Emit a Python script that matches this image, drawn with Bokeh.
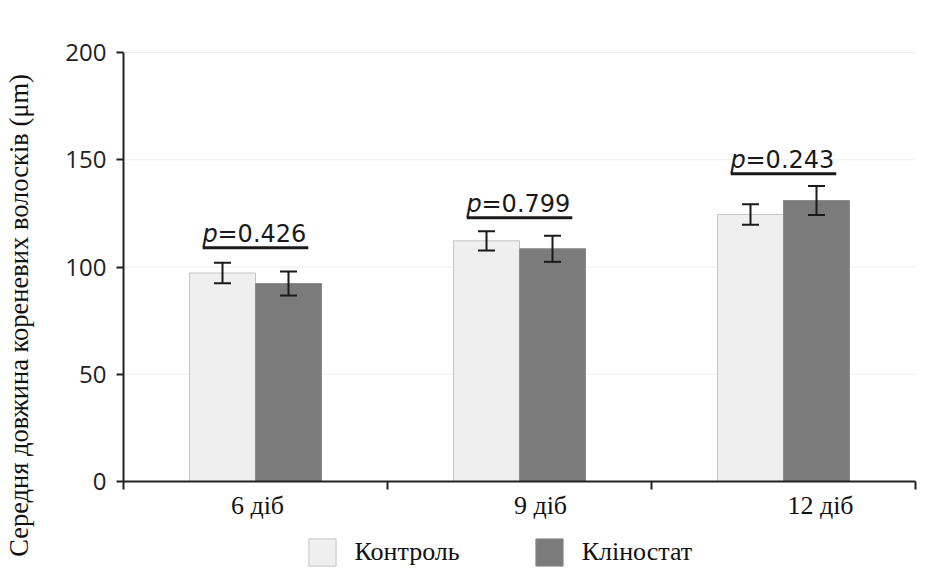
import math
from bokeh.plotting import figure
from bokeh.models import (Range1d, FixedTicker, Whisker, TeeHead, ColumnDataSource,
                          Label, Legend, LegendItem, LinearAxis)
from bokeh.core.properties import value
from bokeh.embed import file_html
from bokeh.resources import INLINE

# ---- data ----
categories = ["6 діб", "9 діб", "12 діб"]
series_names = ["Контроль", "Кліностат"]
control = [97.2, 112.2, 124.5]
control_err = [4.8, 4.5, 4.8]
klinostat = [92.3, 108.5, 131.0]
klinostat_err = [5.6, 6.1, 6.8]
p_values = ["0.426", "0.799", "0.243"]
p_level = [109.0, 123.0, 143.5]
y_ticks = [0, 50, 100, 150, 200]
y_label = "Середня довжина кореневих волосків (μm)"

# ---- layout (pixels) ----
W, H = 935, 570
AX_L, AX_R = 123, 915      # x pixel of category axis start / end
AX_B, AX_T = 481, 52       # y pixel of value 0 / value 200
SERIF = "Liberation Serif"
n = len(categories)
ymin, ymax = y_ticks[0], y_ticks[-1]
sx = (AX_R - AX_L) / n
sy = (AX_B - AX_T) / (ymax - ymin)

centers = [i + 0.5 for i in range(n)]
bw = 0.25

p = figure(width=W, height=H,
           x_range=Range1d(-AX_L / sx, (W - AX_L) / sx),
           y_range=Range1d(ymin - (H - AX_B) / sy, ymin + AX_B / sy),
           output_backend="svg", toolbar_location=None,
           x_axis_location=None, y_axis_location=None,
           min_border=0, min_border_left=0, min_border_right=0, min_border_top=0, min_border_bottom=0)
p.outline_line_color = None
p.background_fill_color = "white"
p.border_fill_color = "white"
p.xgrid.grid_line_color = None
p.ygrid.grid_line_color = None

# faint horizontal grid lines
p.segment(x0=[0] * len(y_ticks), x1=[n] * len(y_ticks), y0=y_ticks, y1=y_ticks,
          line_color="#eeeeee", line_width=1, level="underlay")

# axes
yaxis = LinearAxis(fixed_location=0, ticker=FixedTicker(ticks=y_ticks), bounds=(ymin, ymax))
yaxis.axis_line_width = 2
yaxis.axis_line_color = "#222222"
yaxis.major_tick_line_color = "#222222"
yaxis.major_tick_line_width = 2
yaxis.major_tick_out = 7
yaxis.major_tick_in = 0
yaxis.minor_tick_line_color = None
yaxis.major_label_text_font = "Open Sans"
yaxis.major_label_text_font_size = "24px"
yaxis.major_label_text_color = "#222222"
yaxis.major_label_standoff = 10
p.add_layout(yaxis, "left")

xaxis = LinearAxis(fixed_location=0, ticker=FixedTicker(ticks=list(range(n + 1))), bounds=(0, n))
xaxis.major_label_overrides = {i: "" for i in range(n + 1)}
xaxis.axis_line_width = 2
xaxis.axis_line_color = "#222222"
xaxis.major_tick_line_color = "#222222"
xaxis.major_tick_line_width = 2
xaxis.major_tick_out = 8
xaxis.major_tick_in = 0
xaxis.minor_tick_line_color = None
p.add_layout(xaxis, "below")

# bars
src_c = ColumnDataSource(dict(x=[c - bw / 2 for c in centers], top=control,
                              upper=[v + e for v, e in zip(control, control_err)],
                              lower=[v - e for v, e in zip(control, control_err)]))
src_k = ColumnDataSource(dict(x=[c + bw / 2 for c in centers], top=klinostat,
                              upper=[v + e for v, e in zip(klinostat, klinostat_err)],
                              lower=[v - e for v, e in zip(klinostat, klinostat_err)]))
r_c = p.vbar(x="x", top="top", bottom=0, width=bw, source=src_c, fill_color="#efefef",
             line_color="#c4c4c4", line_width=1)
r_k = p.vbar(x="x", top="top", bottom=0, width=bw, source=src_k, fill_color="#7b7b7b",
             line_color="#8a8a8a", line_width=1)

for src in (src_c, src_k):
    w = Whisker(base="x", upper="upper", lower="lower", source=src, line_color="#1a1a1a", line_width=2,
                upper_head=TeeHead(size=17, line_color="#1a1a1a", line_width=2),
                lower_head=TeeHead(size=17, line_color="#1a1a1a", line_width=2),
                level="overlay")
    p.add_layout(w)

# p-value brackets
p.segment(x0=[c - 0.2 for c in centers], x1=[c + 0.2 for c in centers], y0=p_level, y1=p_level,
          line_color="#1a1a1a", line_width=3)
p.text(x=centers, y=p_level, text=["p"] * n, text_font=value("DejaVu Sans"),
       text_font_style="italic", text_font_size="24px", text_color="#1a1a1a",
       text_align="left", text_baseline="alphabetic", x_offset=-53, y_offset=-14)
p.text(x=centers, y=p_level, text=["=" + v for v in p_values], text_font=value("DejaVu Sans"),
       text_font_size="24px", text_color="#1a1a1a",
       text_align="left", text_baseline="alphabetic", x_offset=-38, y_offset=-14)

# category labels
for c, name, off in zip(centers, categories, [2, 21, 37]):
    p.add_layout(Label(x=c, y=0, x_offset=off, y_offset=-24,
                       text=name, text_font=SERIF, text_font_size="26px", text_color="#111111",
                       text_align="center", text_baseline="middle"))

# y-axis title
p.add_layout(Label(x=18, y=H - 315, x_units="screen", y_units="screen", angle=math.pi / 2,
                   text=y_label, text_font=SERIF, text_font_size="26.5px", text_color="#111111",
                   text_align="center", text_baseline="middle"))

# legend (Bokeh draws the patch at 80% of the glyph box)
legend = Legend(items=[LegendItem(label=series_names[0], renderers=[r_c]),
                       LegendItem(label=series_names[1], renderers=[r_k])],
                location=(304.5, H - 568.5), orientation="horizontal",
                glyph_width=34, glyph_height=34, label_standoff=16, spacing=72,
                label_text_font=SERIF, label_text_font_size="26px", label_text_color="#111111",
                label_height=34, padding=0, margin=0,
                background_fill_alpha=0, border_line_alpha=0)
p.add_layout(legend, "center")

open("out.html", "w").write(file_html(p, INLINE))
